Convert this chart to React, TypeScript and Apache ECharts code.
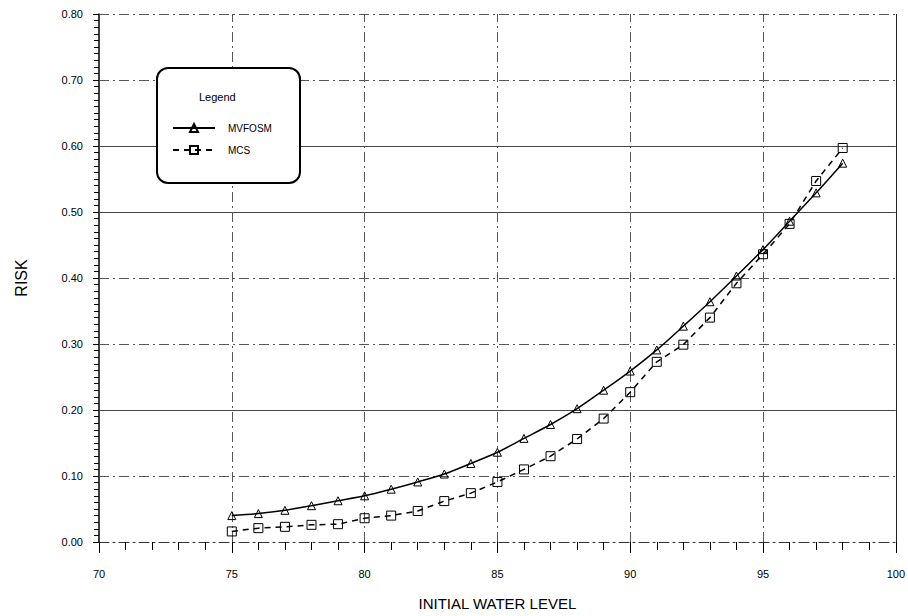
import React, { useEffect, useRef } from "react";
import * as echarts from "echarts";

const waterLevels = [75, 76, 77, 78, 79, 80, 81, 82, 83, 84, 85, 86, 87, 88, 89, 90, 91, 92, 93, 94, 95, 96, 97, 98];
const mvfosmRisk = [0.040, 0.043, 0.048, 0.055, 0.0625, 0.070, 0.080, 0.091, 0.103, 0.119, 0.136, 0.157, 0.178, 0.202, 0.230, 0.259, 0.291, 0.327, 0.364, 0.403, 0.443, 0.486, 0.529, 0.574];
const mcsRisk = [0.016, 0.021, 0.023, 0.026, 0.027, 0.036, 0.040, 0.047, 0.062, 0.074, 0.091, 0.110, 0.130, 0.156, 0.187, 0.227, 0.273, 0.299, 0.340, 0.392, 0.436, 0.482, 0.547, 0.597];

const solidGridY = [0.2, 0.5, 0.6];
const dashGridY = [0.1, 0.3, 0.4, 0.7, 0.8];
const dashGridX = [75, 80, 85, 90, 95];
const solidGridX = [100];

const narrow = "'Liberation Sans Narrow', 'Arial Narrow', 'Liberation Sans', Arial, sans-serif";
const sans = "'Liberation Sans', Arial, sans-serif";

export default function App() {
  const ref = useRef<HTMLDivElement>(null);
  useEffect(() => {
    const chart = echarts.init(ref.current!, null, { renderer: "svg" });
    const dashDot = [10, 4, 2, 4];
    const gridLines: any[] = [];
    solidGridY.forEach((v) => gridLines.push({ yAxis: v, lineStyle: { type: "solid", color: "#444", width: 1 } }));
    dashGridY.forEach((v) => gridLines.push({ yAxis: v, lineStyle: { type: dashDot, color: "#555", width: 1 } }));
    dashGridX.forEach((v) => gridLines.push({ xAxis: v, lineStyle: { type: dashDot, color: "#555", width: 1 } }));
    solidGridX.forEach((v) => gridLines.push({ xAxis: v, lineStyle: { type: "solid", color: "#222", width: 1 } }));

    chart.setOption({
      animation: false,
      backgroundColor: "#fff",
      grid: { left: 99, right: 8, top: 14, bottom: 73, containLabel: false },
      xAxis: {
        type: "value",
        min: 70,
        max: 100,
        interval: 5,
        name: "INITIAL WATER LEVEL",
        nameLocation: "middle",
        nameGap: 54,
        nameTextStyle: { fontFamily: sans, fontSize: 15, color: "#000" },
        axisLine: { show: true, lineStyle: { color: "#333", type: dashDot, width: 1 } },
        axisTick: { show: true, length: 11, lineStyle: { color: "#000" } },
        minorTick: { show: true, splitNumber: 5, length: 8, lineStyle: { color: "#000" } },
        axisLabel: { fontFamily: narrow, fontSize: 11, color: "#000", margin: 26 },
        splitLine: { show: false },
      },
      yAxis: {
        type: "value",
        min: 0,
        max: 0.8,
        interval: 0.1,
        name: "RISK",
        nameLocation: "middle",
        nameGap: 70,
        nameTextStyle: { fontFamily: sans, fontSize: 16, color: "#000" },
        axisLine: { show: true, lineStyle: { color: "#000", width: 1.5 } },
        axisTick: { show: true, length: 6, lineStyle: { color: "#000" } },
        minorTick: { show: true, splitNumber: 10, length: 5, lineStyle: { color: "#000" } },
        axisLabel: {
          fontFamily: narrow,
          fontSize: 11,
          color: "#000",
          margin: 16,
          formatter: (v: number) => v.toFixed(2),
        },
        splitLine: { show: false },
      },
      legend: {
        orient: "vertical",
        left: 172,
        top: 123,
        z: 20,
        zlevel: 0,
        itemWidth: 42,
        itemHeight: 10,
        itemGap: 12,
        padding: 0,
        textStyle: { fontFamily: narrow, fontSize: 10, color: "#000", padding: [0, 0, 0, 8] },
        data: ["MVFOSM", "MCS"],
      },
      graphic: [
        {
          type: "rect",
          left: 156,
          top: 67,
          shape: { width: 143, height: 115, r: 11 },
          style: { fill: "#fff", stroke: "#000", lineWidth: 2 },
          z: 5,
        },
        {
          type: "text",
          left: 199,
          top: 91,
          style: { text: "Legend", fontFamily: narrow, fontSize: 11, fill: "#000" },
          z: 6,
        },
      ],
      series: [
        {
          name: "MVFOSM",
          type: "line",
          data: waterLevels.map((x, i) => [x, mvfosmRisk[i]]),
          smooth: 0.3,
          symbol: "triangle",
          symbolSize: 8,
          itemStyle: { color: "transparent", borderColor: "#000", borderWidth: 1 },
          lineStyle: { color: "#000", width: 1.5, type: "solid" },
          z: 3,
          markLine: {
            silent: true,
            symbol: "none",
            label: { show: false },
            data: gridLines,
            z: 1,
          },
        },
        {
          name: "MCS",
          type: "line",
          data: waterLevels.map((x, i) => [x, mcsRisk[i]]),
          symbol: "rect",
          symbolSize: 9,
          itemStyle: { color: "transparent", borderColor: "#000", borderWidth: 1 },
          lineStyle: { color: "#000", width: 1.5, type: [6, 5] },
          z: 3,
        },
      ],
    });
    return () => chart.dispose();
  }, []);
  return <div ref={ref} style={{ position: "fixed", left: 0, top: 0, width: 908, height: 616 }} />;
}
